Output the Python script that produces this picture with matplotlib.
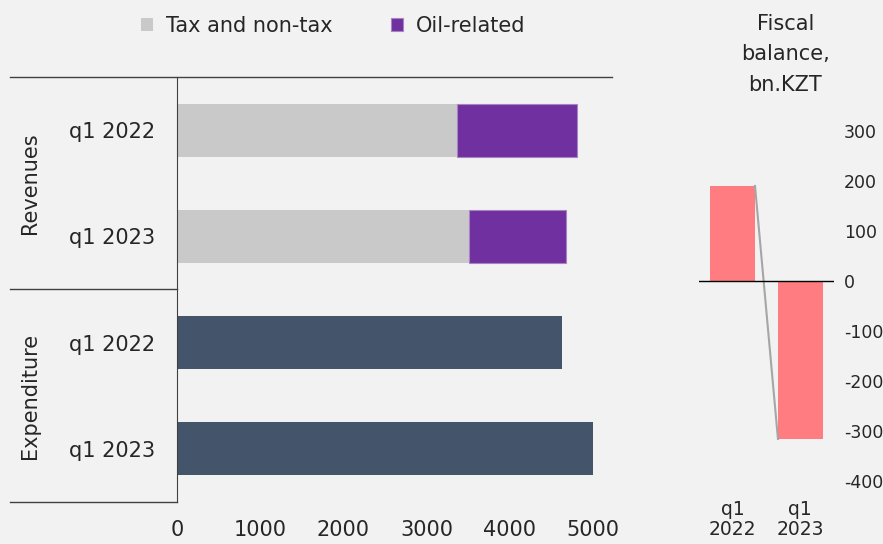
import matplotlib.pyplot as plt
import numpy as np

plt.rcParams['font.family'] = ['DejaVu Sans']
plt.rcParams['axes.unicode_minus'] = False

# data (bn. KZT)
rows = ['q1 2022', 'q1 2023', 'q1 2022', 'q1 2023']
tax = [3365, 3510, 0, 0]
oil = [1440, 1165, 0, 0]
expenditure = [0, 0, 4627, 5000]
groups = ['Revenues', 'Expenditure']
bal_labels = ['q1\n2022', 'q1\n2023']
balance = [190, -316]

bg = '#F2F2F2'
txt = '#262626'
fs = 15
fig = plt.figure(figsize=(8.83, 5.44), dpi=100, facecolor=bg)

# left: revenues / expenditure
ax = fig.add_axes([0.2004, 0.0772, 0.4926, 0.7813], facecolor=bg)
y = np.arange(len(rows))
b1 = ax.barh(y, tax, height=0.5, color='#C9C9C9')
b2 = ax.barh(y, oil, left=tax, height=0.5, color='#7030A0', edgecolor='#A884C4', linewidth=0.8)
ax.barh(y, expenditure, height=0.5, color='#44546A')
ax.set_ylim(3.5, -0.5)
ax.set_xlim(0, 5230)
ax.set_xticks([0, 1000, 2000, 3000, 4000, 5000])
ax.set_yticks(y, rows)
ax.tick_params(axis='x', length=0, pad=13, labelsize=fs, colors=txt)
ax.tick_params(axis='y', length=0, pad=16, labelsize=fs, colors=txt)
for s in ['top', 'right', 'bottom']:
    ax.spines[s].set_visible(False)
ax.spines['left'].set_color('#404040')

# group separator lines
x0 = -0.384
ax.plot([x0, 1], [1, 1], transform=ax.transAxes, color='#404040', lw=1, clip_on=False)
ax.plot([x0, 0], [0.5, 0.5], transform=ax.transAxes, color='#404040', lw=1, clip_on=False)
ax.plot([x0, 0], [0, 0], transform=ax.transAxes, color='#404040', lw=1, clip_on=False)
ax.text(-0.338, 0.75, groups[0], transform=ax.transAxes, rotation=90,
        ha='center', va='center', fontsize=fs, color=txt)
ax.text(-0.338, 0.25, groups[1], transform=ax.transAxes, rotation=90,
        ha='center', va='center', fontsize=fs, color=txt)

fig.legend([b1, b2], ['Tax and non-tax', 'Oil-related'], loc='center',
           bbox_to_anchor=(0.377, 0.953), ncol=2, frameon=False, fontsize=fs,
           handlelength=0.6, handleheight=0.6, handletextpad=0.6, columnspacing=2.8,
           labelcolor=txt)

# right: fiscal balance
ax2 = fig.add_axes([0.7916, 0.1158, 0.1529, 0.6434], facecolor=bg)
xb = np.arange(len(balance))
w = 0.66
ax2.bar(xb, balance, width=w, color='#FF7C80')
ax2.plot([xb[0] + w / 2, xb[1] - w / 2], balance, color='#A6A6A6', lw=1.5)
ax2.axhline(0, color='black', lw=1)
ax2.set_xlim(-0.5, 1.5)
ax2.set_ylim(-400, 300)
ax2.set_yticks([-400, -300, -200, -100, 0, 100, 200, 300])
ax2.yaxis.tick_right()
ax2.tick_params(axis='y', length=0, pad=7, labelsize=12.5, colors=txt)
ax2.set_xticks(xb, bal_labels)
ax2.tick_params(axis='x', length=0, pad=14, labelsize=13.5, colors=txt)
for lab in ax2.get_xticklabels():
    lab.set_linespacing(1.05)
for s in ax2.spines.values():
    s.set_visible(False)
ax2.text(0.64, 1.103, 'Fiscal\nbalance,\nbn.KZT', transform=ax2.transAxes,
         ha='center', va='bottom', fontsize=fs, color=txt, linespacing=1.66)

fig.savefig('out.png', dpi=100, facecolor=bg)
